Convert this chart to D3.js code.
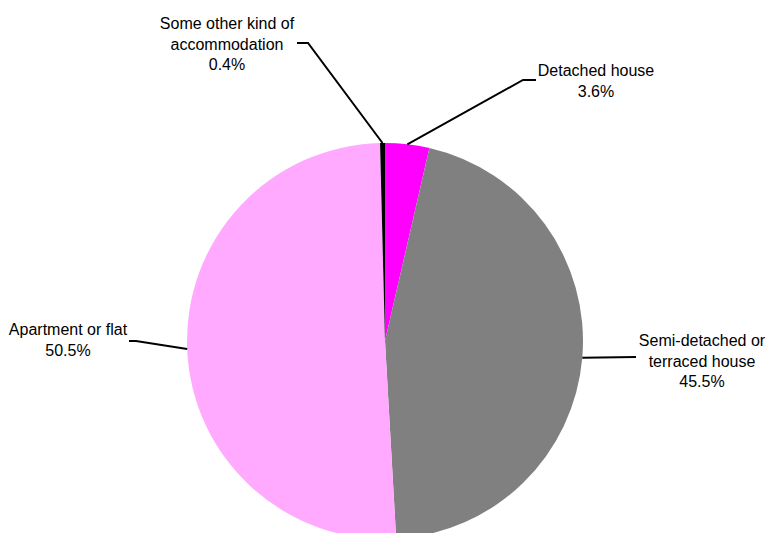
<!DOCTYPE html>
<html>
<head>
<meta charset="utf-8">
<script src="https://cdn.jsdelivr.net/npm/d3@7"></script>
<style>
  html, body { margin: 0; padding: 0; background: #fff; }
  svg { display: block; }
  text { font-family: "Liberation Sans", Arial, Helvetica, sans-serif; font-size: 16px; fill: #000; }
</style>
</head>
<body>
<svg id="chart" width="769" height="533"></svg>
<script>
// ---- data ----
const categories = ["Detached house", "Semi-detached or terraced house", "Apartment or flat", "Some other kind of accommodation"];
const values = [3.6, 45.5, 50.5, 0.4];
const colors = ["#ff00ff", "#808080", "#ffaaff", "#000000"];
const labelLines = [
  ["Detached house"],
  ["Semi-detached or", "terraced house"],
  ["Apartment or flat"],
  ["Some other kind of", "accommodation"]
];

// ---- layout ----
const cx = 385, cy = 341, radius = 198;
const lineH = 20.5;
// label anchor (text centre x, first baseline y) and leader elbow points
const labelLayout = [
  { tx: 596, ty: 76, elbow: [523, 80], end: [536, 80] },
  { tx: 702, ty: 346, elbow: null, end: [636, 357] },
  { tx: 68, ty: 335, elbow: [136, 341], end: [129, 341] },
  { tx: 227, ty: 29, elbow: [308, 43], end: [297, 43] }
];

const svg = d3.select("#chart");
const g = svg.append("g").attr("transform", `translate(${cx},${cy})`);

const pie = d3.pie().sort(null).value(d => d).startAngle(0).endAngle(2 * Math.PI);
const arcs = pie(values);
const arc = d3.arc().innerRadius(0).outerRadius(radius);

g.selectAll("path.slice")
  .data(arcs)
  .join("path")
  .attr("class", "slice")
  .attr("d", arc)
  .attr("fill", (d, i) => colors[i]);

// leader lines
const fmt = d3.format(".1f");
arcs.forEach((d, i) => {
  const a = (d.startAngle + d.endAngle) / 2;
  const px = cx + radius * Math.sin(a);
  const py = cy - radius * Math.cos(a);
  const L = labelLayout[i];
  const pts = [[px, py]];
  if (L.elbow) pts.push(L.elbow);
  pts.push(L.end);
  svg.append("path")
    .attr("d", d3.line()(pts))
    .attr("fill", "none")
    .attr("stroke", "#000")
    .attr("stroke-width", 2);

  const t = svg.append("text")
    .attr("text-anchor", "middle")
    .attr("x", L.tx)
    .attr("y", L.ty);
  const lines = labelLines[i].concat([fmt(values[i]) + "%"]);
  lines.forEach((ln, j) => {
    t.append("tspan")
      .attr("x", L.tx)
      .attr("y", L.ty + j * lineH)
      .text(ln);
  });
});
</script>
</body>
</html>
